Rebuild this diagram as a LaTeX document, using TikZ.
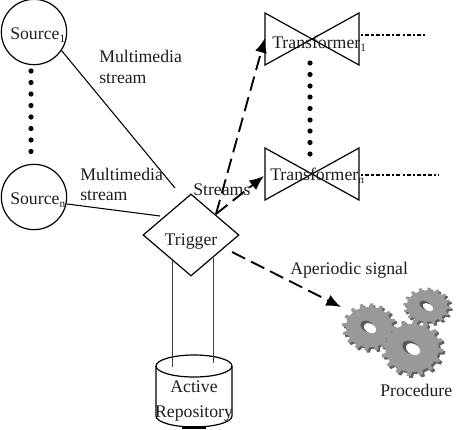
\documentclass[tikz,border=0pt]{standalone}
\usepackage{fontspec}
\setmainfont{Liberation Serif}
\usetikzlibrary{arrows.meta,shapes.geometric}
\tikzset{
  lbl/.style={inner sep=0pt,font=\fontsize{13.3}{16}\selectfont,text=black!88},
  circ/.style={circle,draw,line width=0.9pt,minimum size=49pt,inner sep=0pt},
  thin line/.style={line width=0.8pt},
  dash arrow/.style={line width=1.4pt,dash pattern=on 11pt off 5pt,-{Latex[length=11pt,width=9pt]}},
  bow/.style={line width=0.9pt},
  fine dots/.style={line width=0.8pt,dash pattern=on 1.6pt off 1.6pt on 3pt off 1.6pt},
  big dot/.style={fill=black,draw=none},
  rail/.style={line width=1.2pt,black!75},
}
\newcommand{\lowsub}[1]{\raisebox{-2.8pt}{\fontsize{8.5}{9}\selectfont #1}}
\newcommand{\gearshape}[4]{% cx cy rx ry
  plot[samples=161,domain=0:360] ({#1+#3*(1+0.08*(sin(16*\x)>0?1:-1))*cos(\x)},{#2+#4*(1+0.08*(sin(16*\x)>0?1:-1))*sin(\x)}) -- cycle}
\newcommand{\geardraw}[4]{%
  \fill[black!62] \gearshape{#1+2}{#2+2}{#3}{#4};
  \fill[black!40] \gearshape{#1}{#2}{#3}{#4};
  \fill[black!65,rotate around={-30:(#1,#2)}] (#1-1.5,#2+0.3) ellipse ({#3*0.3} and {#4*0.24});
  \fill[white,rotate around={-30:(#1,#2)}] (#1+1.5,#2+0.5) ellipse ({#3*0.26} and {#4*0.2});
}
\begin{document}
\begin{tikzpicture}[x=0.75pt,y=-0.75pt]
\useasboundingbox (0,0) rectangle (474,429);
\fill[white] (0,0) rectangle (474,429);

% sources
\node[circ] (s1) at (34,32) {};
\node[circ] (sn) at (34,197) {};
\node[lbl,anchor=base west] (s1t) at (10,39) {Source\lowsub{1}};
\node[lbl,anchor=base west] (snt) at (10,204) {Source\lowsub{n}};
\foreach \y in {71,82.5,94,105.5,117,128.5,140,151.5}
  \fill[big dot] (31,\y) circle (2.6);

% trigger
\node[diamond,draw,line width=0.9pt,minimum width=72pt,minimum height=61.5pt,inner sep=0pt,aspect=1.17] (trig) at (191,235) {};
\node[lbl,anchor=base] (trigt) at (191,245) {Trigger};

% stream labels
\node[lbl,anchor=base west] (m1) at (99,62) {Multimedia};
\node[lbl,anchor=base west] (m2) at (99,83) {stream};
\node[lbl,anchor=base west] (m3) at (80,180) {Multimedia};
\node[lbl,anchor=base west] (m4) at (80,200) {stream};
\node[lbl,anchor=base west] (st) at (193,195) {Streams};

\coordinate (e1) at (175,188);
\coordinate (e2) at (160,216);
\draw[thin line] (s1.-34) -- (e1);
\draw[thin line] (sn.-12) -- (e2);

% transformers
\draw[bow] (265,13) -- (359,65) -- (359,13) -- (265,65) -- cycle;
\draw[bow] (265,148) -- (359,200) -- (359,148) -- (265,200) -- cycle;
\node[lbl,anchor=base west] (t1) at (272,48) {Transformer\lowsub{1}};
\node[lbl,anchor=base west] (tn) at (270,180) {Transformer\lowsub{n}};
\coordinate (d1) at (425,35);
\coordinate (d2) at (439,175);
\coordinate (d1s) at (361,35);
\coordinate (d2s) at (361,175);
\draw[fine dots] (d1s) -- (d1);
\draw[fine dots] (d2s) -- (d2);
\foreach \y in {63,74.5,86,97,108.5,120,131,142.5,154}
  \fill[big dot] (310,\y) circle (2.6);

% dashed arrows
\coordinate (o) at (216,214);
\coordinate (h1) at (265,38);
\coordinate (h2) at (264,176);
\draw[dash arrow] (o) -- (h1);
\draw[dash arrow] (o) -- (h2);
\coordinate (a0) at (232,252);
\coordinate (a1) at (341,307);
\draw[dash arrow] (a0) -- (a1);
\node[lbl,anchor=base west] (ap) at (290,274) {Aperiodic signal};

% repository
\coordinate (cyl) at (194,366);
\draw[line width=0.9pt,fill=white] (156,366) -- (156,416) arc[start angle=180,end angle=0,x radius=38,y radius=11] -- (232,366);
\draw[line width=0.9pt] (cyl) ellipse (38 and 11);
\draw[line width=1.8pt] (182,427.5) -- (206,427.5);
\coordinate (r1) at (172.5,367);
\coordinate (r2) at (213.5,363);
\coordinate (r1t) at (172.5,261);
\coordinate (r2t) at (213.5,258);
\draw[rail] (r1t) -- (r1);
\draw[rail] (r2t) -- (r2);
\node[lbl,anchor=base] (a) at (194,392) {Active};
\node[lbl,anchor=base] (r) at (194,417) {Repository};

% gears
\geardraw{427}{306}{22}{17}
\geardraw{369}{327}{25}{22}
\geardraw{412}{348}{29}{26}
\node[lbl,anchor=base west] (pr) at (380,396) {Procedure};
\end{tikzpicture}
\end{document}
